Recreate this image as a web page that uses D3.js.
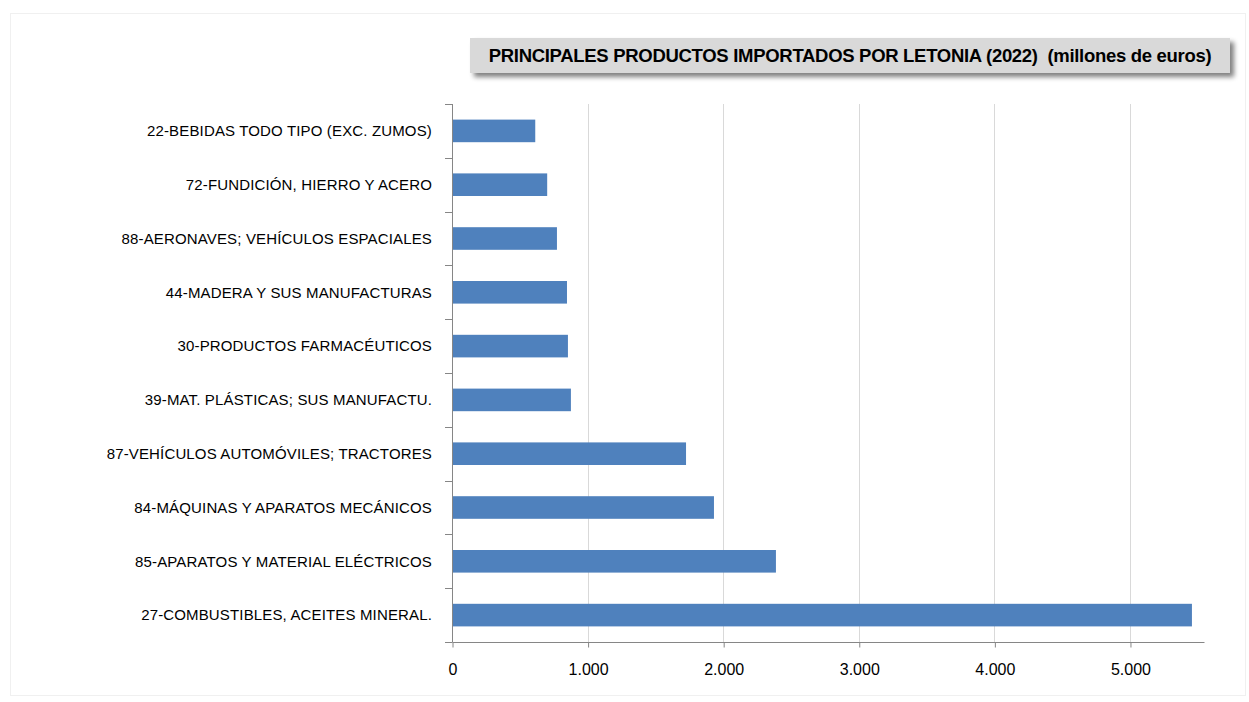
<!DOCTYPE html>
<html>
<head>
<meta charset="utf-8">
<script src="https://cdn.jsdelivr.net/npm/d3@7"></script>
<style>
  body { margin: 0; background: #fff; }
  svg { display: block; }
</style>
</head>
<body>
<div id="chart"></div>
<script>
// Categories, top to bottom
const categories = [
  "22-BEBIDAS TODO TIPO (EXC. ZUMOS)",
  "72-FUNDICIÓN, HIERRO Y ACERO",
  "88-AERONAVES; VEHÍCULOS ESPACIALES",
  "44-MADERA Y SUS MANUFACTURAS",
  "30-PRODUCTOS FARMACÉUTICOS",
  "39-MAT. PLÁSTICAS; SUS MANUFACTU.",
  "87-VEHÍCULOS AUTOMÓVILES; TRACTORES",
  "84-MÁQUINAS Y APARATOS MECÁNICOS",
  "85-APARATOS Y MATERIAL ELÉCTRICOS",
  "27-COMBUSTIBLES, ACEITES MINERAL."
];
// Imports, millones de euros
const values = [614, 702, 774, 848, 855, 877, 1726, 1932, 2389, 5457];
const tickValues = [0, 1000, 2000, 3000, 4000, 5000];
const tickLabels = ["0", "1.000", "2.000", "3.000", "4.000", "5.000"];
const title = "PRINCIPALES PRODUCTOS IMPORTADOS POR LETONIA (2022)  (millones de euros)";

const width = 1249;
const height = 702;
const margin = { top: 104, right: 45, bottom: 60, left: 452 };

const svg = d3.select("#chart")
  .append("svg")
  .attr("width", width)
  .attr("height", height);

// faint outer frame
svg.append("rect")
  .attr("x", 10.5).attr("y", 13.5)
  .attr("width", width - 14).attr("height", height - 20)
  .attr("fill", "none")
  .attr("stroke", "#f0f0f0");

// title box with shadow
const defs = svg.append("defs");
const f = defs.append("filter").attr("id", "shadow")
  .attr("x", "-5%").attr("y", "-30%").attr("width", "110%").attr("height", "180%");
f.append("feGaussianBlur").attr("in", "SourceAlpha").attr("stdDeviation", 2.5);
f.append("feOffset").attr("dx", 4).attr("dy", 4).attr("result", "b");
f.append("feComponentTransfer").append("feFuncA").attr("type", "linear").attr("slope", 0.5);
const fm = f.append("feMerge");
fm.append("feMergeNode");
fm.append("feMergeNode").attr("in", "SourceGraphic");

svg.append("rect")
  .attr("x", 470).attr("y", 38)
  .attr("width", 760).attr("height", 35)
  .attr("fill", "#d9d9d9")
  .attr("filter", "url(#shadow)");

svg.append("text")
  .attr("x", 850).attr("y", 62)
  .attr("text-anchor", "middle")
  .style("font-family", "'Liberation Sans', sans-serif")
  .style("font-weight", "bold")
  .style("font-size", "18.5px")
  .style("letter-spacing", "-0.3px")
  .style("white-space", "pre")
  .attr("fill", "#000")
  .text(title);

const plotW = width - margin.left - margin.right;
const plotH = height - margin.top - margin.bottom;
const g = svg.append("g").attr("transform", `translate(${margin.left},${margin.top})`);

const x = d3.scaleLinear().domain([0, 5546]).range([0, plotW]);
const y = d3.scaleBand().domain(categories).range([0, plotH]).paddingInner(0.58).paddingOuter(0.29);

// vertical gridlines
g.selectAll(".grid")
  .data(tickValues.slice(1))
  .enter().append("line")
  .attr("x1", (d) => Math.round(x(d)) + 0.5).attr("x2", (d) => Math.round(x(d)) + 0.5)
  .attr("y1", 0).attr("y2", plotH)
  .attr("stroke", "#d9d9d9");

// bars
g.selectAll(".bar")
  .data(values)
  .enter().append("rect")
  .attr("x", 0)
  .attr("y", (d, i) => y(categories[i]))
  .attr("width", (d) => x(d))
  .attr("height", y.bandwidth())
  .attr("fill", "#4f81bd");

// x axis
const xAxis = d3.axisBottom(x)
  .tickValues(tickValues)
  .tickFormat((d, i) => tickLabels[i])
  .tickSize(5)
  .tickPadding(16);
const xg = g.append("g").attr("transform", `translate(0.5,${plotH + 0.5})`).call(xAxis);
xg.select(".domain").attr("d", `M0,0H${plotW}`).attr("stroke", "#868686");
xg.selectAll(".tick line").attr("stroke", "#868686");
xg.selectAll("text")
  .style("font-family", "'Liberation Sans', sans-serif")
  .style("font-size", "16px")
  .attr("fill", "#000");

// y axis line and boundary ticks
g.append("line")
  .attr("x1", 0.5).attr("x2", 0.5)
  .attr("y1", 0).attr("y2", plotH)
  .attr("stroke", "#868686");
const step = y.step();
g.selectAll(".ytick")
  .data(d3.range(categories.length + 1))
  .enter().append("line")
  .attr("x1", -7).attr("x2", 0.5)
  .attr("y1", (d) => Math.round(d * step) + 0.5)
  .attr("y2", (d) => Math.round(d * step) + 0.5)
  .attr("stroke", "#868686");

// category labels
g.selectAll(".ylabel")
  .data(categories)
  .enter().append("text")
  .attr("x", -20)
  .attr("y", (d) => y(d) + y.bandwidth() / 2)
  .attr("dy", "0.35em")
  .attr("text-anchor", "end")
  .style("font-family", "'Liberation Sans', sans-serif")
  .style("font-size", "15px")
  .style("letter-spacing", "0.15px")
  .attr("fill", "#000")
  .text((d) => d);
</script>
</body>
</html>
